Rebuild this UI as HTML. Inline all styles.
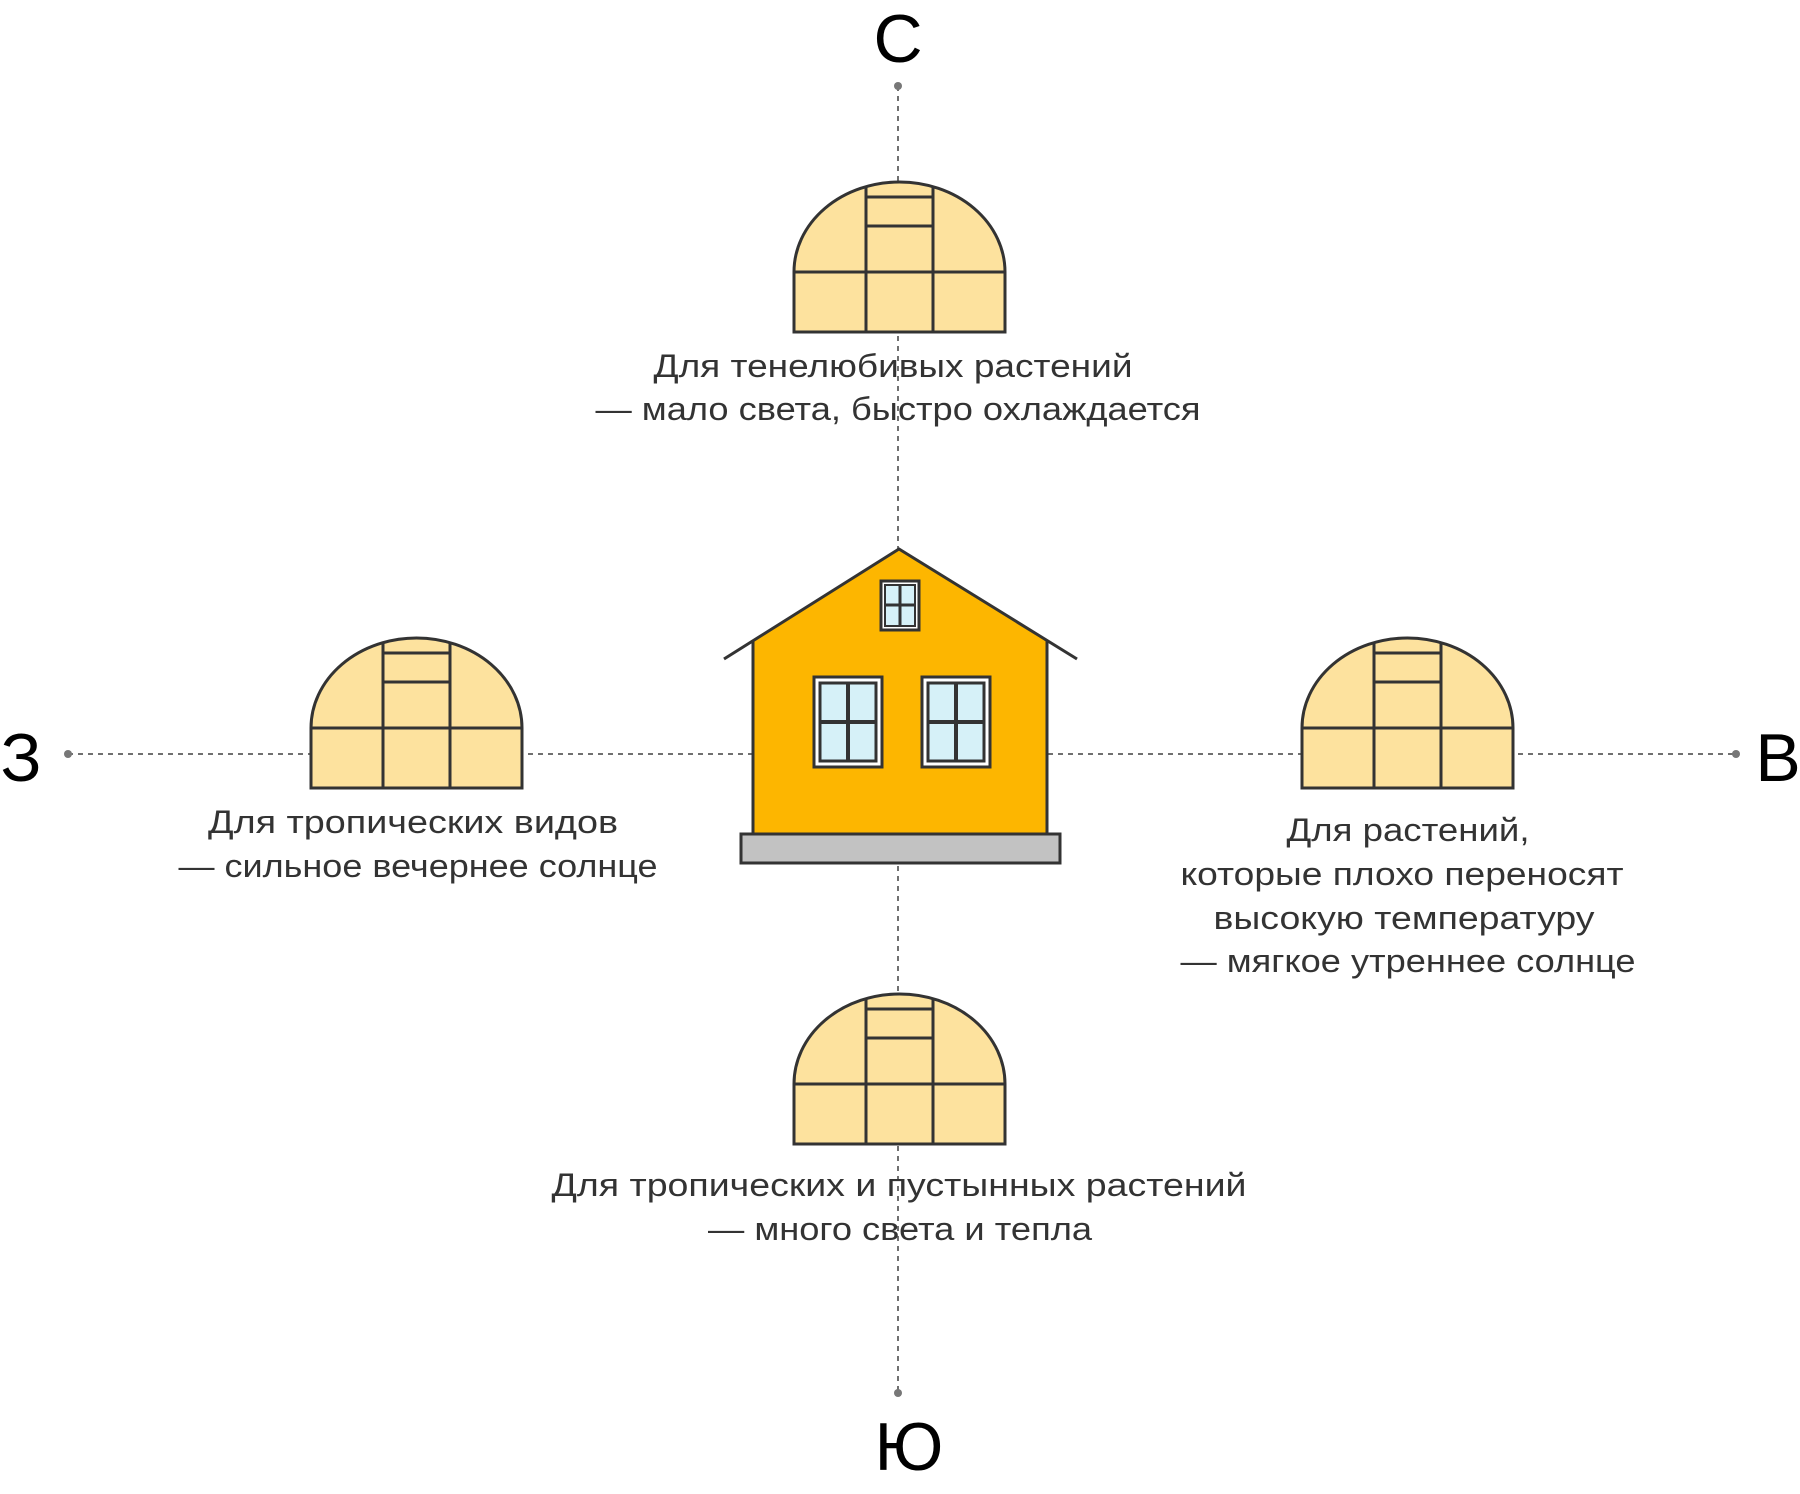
<!DOCTYPE html>
<html><head><meta charset="utf-8"><style>
html,body{margin:0;padding:0;background:#fff;}
svg{display:block;}
text{font-family:"Liberation Sans",sans-serif;}
</style></head><body>
<svg width="1800" height="1494" viewBox="0 0 1800 1494" xmlns="http://www.w3.org/2000/svg">
<defs>
<g id="gh">
<path d="M0,150 L0,90 A105.5,90 0 0 1 211,90 L211,150 Z" fill="#fde29e" stroke="#333" stroke-width="3"/>
<line x1="0" y1="90" x2="211" y2="90" stroke="#333" stroke-width="3"/>
<line x1="72" y1="4.7" x2="72" y2="150" stroke="#333" stroke-width="3"/>
<line x1="139" y1="4.7" x2="139" y2="150" stroke="#333" stroke-width="3"/>
<line x1="72" y1="15" x2="139" y2="15" stroke="#333" stroke-width="3"/>
<line x1="72" y1="44" x2="139" y2="44" stroke="#333" stroke-width="3"/>
</g>
<g id="win">
<rect x="0" y="0" width="68" height="90" fill="#fff" stroke="#333" stroke-width="3"/>
<rect x="6" y="6" width="56" height="78" fill="#d6f1f8" stroke="#333" stroke-width="3"/>
<line x1="34" y1="6" x2="34" y2="84" stroke="#333" stroke-width="4"/>
<line x1="6" y1="45" x2="62" y2="45" stroke="#333" stroke-width="4"/>
</g>
</defs>
<g stroke="#707070" stroke-width="2" stroke-dasharray="5 5">
<line x1="898" y1="86" x2="898" y2="1393"/>
<line x1="68" y1="754" x2="1736" y2="754"/>
</g>
<g fill="#777">
<circle cx="898" cy="86" r="4"/><circle cx="898" cy="1393" r="4"/>
<circle cx="68" cy="754" r="4"/><circle cx="1736" cy="754" r="4"/>
</g>
<g font-size="68" fill="#000" text-anchor="middle">
<text x="898" y="62">С</text>
<text x="21" y="781">З</text>
<text x="1778" y="781">В</text>
<text x="909" y="1470">Ю</text>
</g>
<use href="#gh" x="794" y="182"/>
<use href="#gh" x="311" y="638"/>
<use href="#gh" x="1302" y="638"/>
<use href="#gh" x="794" y="994"/>
<!-- house -->
<polygon points="753,641 899,549 1047,641 1047,834 753,834" fill="#fdb600"/>
<polyline points="753,834 753,641" fill="none" stroke="#333" stroke-width="3"/>
<polyline points="1047,834 1047,641" fill="none" stroke="#333" stroke-width="3"/>
<polyline points="724,659 899,549 1077,659" fill="none" stroke="#333" stroke-width="3"/>
<rect x="741" y="834" width="319" height="29" fill="#c2c2c2" stroke="#333" stroke-width="3"/>
<g>
<rect x="881" y="581" width="38" height="49" fill="#fff" stroke="#333" stroke-width="3"/>
<rect x="885" y="585" width="30" height="41" fill="#d6f1f8" stroke="#333" stroke-width="2"/>
<line x1="900" y1="585" x2="900" y2="626" stroke="#333" stroke-width="3"/>
<line x1="885" y1="605" x2="915" y2="605" stroke="#333" stroke-width="3"/>
</g>
<use href="#win" x="814" y="677"/>
<use href="#win" x="922" y="677"/>
<g font-size="32" fill="#333" text-anchor="middle">
<text x="893" y="377" textLength="479" lengthAdjust="spacingAndGlyphs">Для тенелюбивых растений</text>
<text x="898" y="420" textLength="605" lengthAdjust="spacingAndGlyphs">— мало света, быстро охлаждается</text>
<text x="413" y="833" textLength="410" lengthAdjust="spacingAndGlyphs">Для тропических видов</text>
<text x="418" y="877" textLength="479" lengthAdjust="spacingAndGlyphs">— сильное вечернее солнце</text>
<text x="1408" y="841" textLength="243" lengthAdjust="spacingAndGlyphs">Для растений,</text>
<text x="1402" y="885" textLength="443" lengthAdjust="spacingAndGlyphs">которые плохо переносят</text>
<text x="1404" y="929" textLength="381" lengthAdjust="spacingAndGlyphs">высокую температуру</text>
<text x="1408" y="972" textLength="455" lengthAdjust="spacingAndGlyphs">— мягкое утреннее солнце</text>
<text x="899" y="1196" textLength="695" lengthAdjust="spacingAndGlyphs">Для тропических и пустынных растений</text>
<text x="900" y="1240" textLength="384" lengthAdjust="spacingAndGlyphs">— много света и тепла</text>
</g>
</svg>
</body></html>
